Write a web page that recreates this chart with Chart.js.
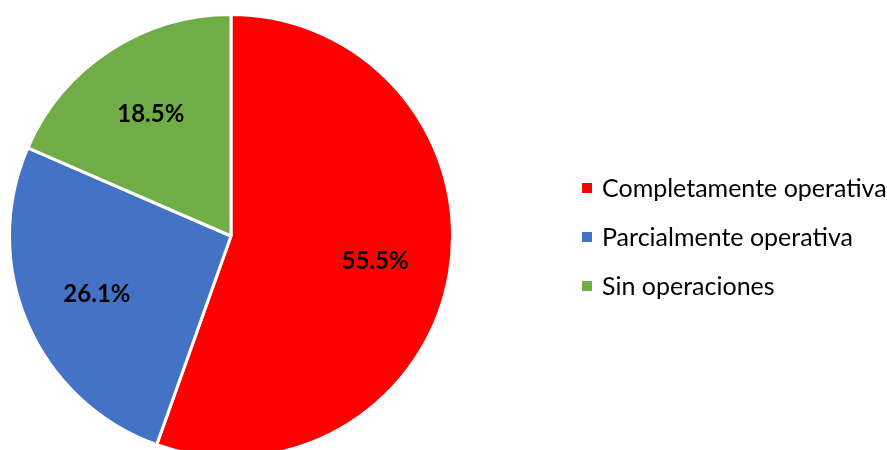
<!DOCTYPE html>
<html>
<head>
<meta charset="utf-8">
<script src="https://cdn.jsdelivr.net/npm/chart.js@4.4.0/dist/chart.umd.min.js"></script>
<style>
  html, body { margin: 0; padding: 0; background: #fff; overflow: hidden; }
  #wrap { width: 887px; height: 472px; }
</style>
</head>
<body>
<div id="wrap"><canvas id="pieChart" width="887" height="472"></canvas></div>
<script>
// datos del gráfico
const labels = ['Completamente operativa', 'Parcialmente operativa', 'Sin operaciones'];
const values = [55.5, 26.1, 18.5];
const colors = ['#FF0000', '#4472C4', '#70AD47'];

// etiquetas de porcentaje dentro de cada sector
const sliceLabels = {
    id: 'sliceLabels',
    afterDatasetsDraw(chart) {
        const ctx = chart.ctx;
        const meta = chart.getDatasetMeta(0);
        ctx.save();
        ctx.font = 'bold 24px Lato';
        ctx.fillStyle = '#000';
        ctx.textAlign = 'center';
        ctx.textBaseline = 'middle';
        meta.data.forEach((arc, i) => {
            const p = arc.getProps(['x', 'y', 'startAngle', 'endAngle', 'outerRadius'], true);
            const mid = (p.startAngle + p.endAngle) / 2;
            const r = p.outerRadius * 0.66;
            ctx.fillText(values[i].toFixed(1) + '%', p.x + Math.cos(mid) * r, p.y + Math.sin(mid) * r);
        });
        ctx.restore();
    }
};

// leyenda a la derecha
const sideLegend = {
    id: 'sideLegend',
    afterDraw(chart) {
        const ctx = chart.ctx;
        ctx.save();
        ctx.font = '25px Lato';
        ctx.textBaseline = 'middle';
        labels.forEach((lab, i) => {
            const y = 188 + i * 49;
            ctx.fillStyle = colors[i];
            ctx.fillRect(582, y - 5, 10, 10);
            ctx.fillStyle = '#000';
            ctx.fillText(lab, 602, y + 1);
        });
        ctx.restore();
    }
};

new Chart(document.getElementById('pieChart').getContext('2d'), {
    type: 'pie',
    data: {
        labels: labels,
        datasets: [{
            data: values,
            backgroundColor: colors,
            borderColor: '#fff',
            borderWidth: 3
        }]
    },
    options: {
        responsive: false,
        devicePixelRatio: 1,
        animation: false,
        layout: { padding: { left: 8, top: 13, right: 433, bottom: 13 } },
        plugins: {
            legend: { display: false },
            tooltip: { enabled: false }
        }
    },
    plugins: [sliceLabels, sideLegend]
});
</script>
</body>
</html>
